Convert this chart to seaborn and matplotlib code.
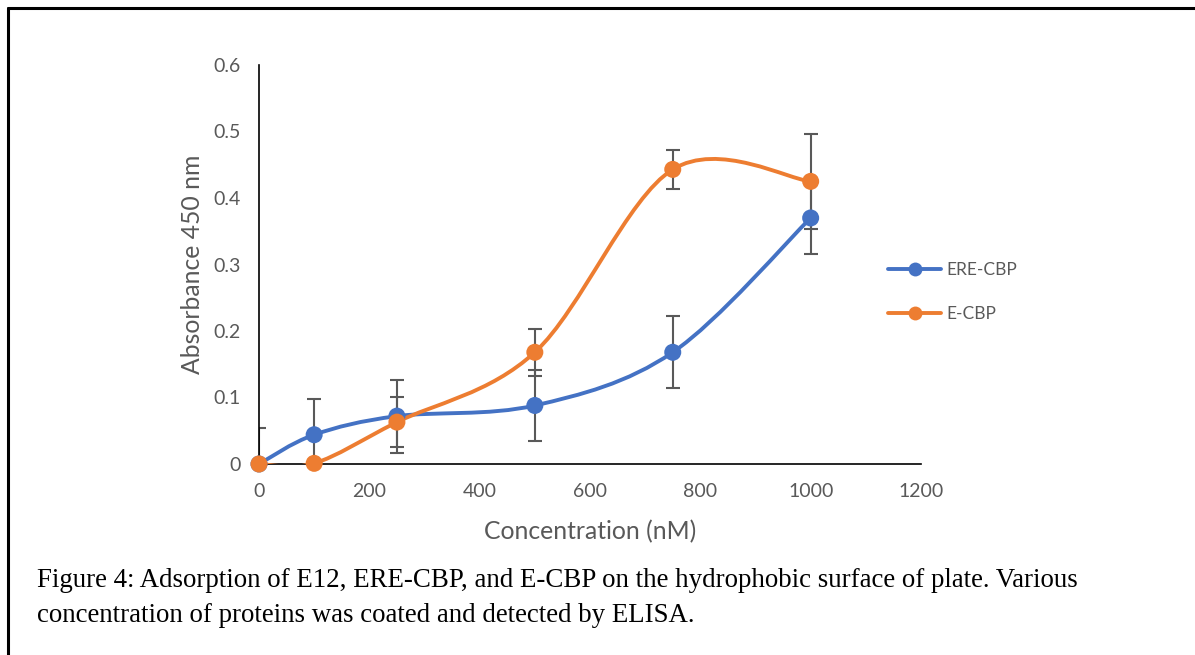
import numpy as np
import pandas as pd
import matplotlib
matplotlib.use("Agg")
import matplotlib.pyplot as plt
import seaborn as sns
from matplotlib.lines import Line2D
from matplotlib.path import Path
from matplotlib.patches import PathPatch

# ── Data ──────────────────────────────────────────────────────────────────────
concentration = [0, 100, 250, 500, 750, 1000]
ere_cbp = [0.0, 0.044, 0.072, 0.088, 0.168, 0.370]
ere_cbp_err = [0.054, 0.053, 0.055, 0.054, 0.054, 0.054]
e_cbp = [0.0, 0.001, 0.063, 0.168, 0.443, 0.425]
e_cbp_err = [0.0, 0.0, 0.038, 0.035, 0.029, 0.071]

series_names = ["ERE-CBP", "E-CBP"]
x_ticks = [0, 200, 400, 600, 800, 1000, 1200]
y_ticks = [0, 0.1, 0.2, 0.3, 0.4, 0.5, 0.6]
y_tick_labels = ["0", "0.1", "0.2", "0.3", "0.4", "0.5", "0.6"]

COLORS = {"ERE-CBP": "#4472C4", "E-CBP": "#ED7D31"}
GREY = "#595959"
SANS = ["Lato", "DejaVu Sans"]
SERIF = ["Liberation Serif", "DejaVu Serif"]

caption_lines = [
    "Figure 4: Adsorption of E12, ERE-CBP, and E-CBP on the hydrophobic surface of plate. Various",
    "concentration of proteins was coated and detected by ELISA.",
]


def smooth_path(xs, ys):
    """Excel-style smoothed line as cubic Bezier segments (Catmull-Rom)."""
    pts = np.column_stack([xs, ys]).astype(float)
    verts = [pts[0]]
    codes = [Path.MOVETO]
    n = len(pts)
    for i in range(n - 1):
        p0 = pts[max(i - 1, 0)]
        p1 = pts[i]
        p2 = pts[i + 1]
        p3 = pts[min(i + 2, n - 1)]
        c1 = p1 + (p2 - p0) / 6.0
        c2 = p2 - (p3 - p1) / 6.0
        verts += [c1, c2, p2]
        codes += [Path.CURVE4] * 3
    return Path(verts, codes)


df = pd.DataFrame({
    "Concentration": concentration * 2,
    "Absorbance": ere_cbp + e_cbp,
    "err": ere_cbp_err + e_cbp_err,
    "Series": ["ERE-CBP"] * len(concentration) + ["E-CBP"] * len(concentration),
})

sns.set_style("white")
plt.rcParams["font.family"] = SANS

fig = plt.figure(figsize=(11.95, 6.55), dpi=100)
ax = fig.add_axes([259 / 1195, 1 - 464 / 655, 662 / 1195, 399 / 655])

# error bars first, under the lines
for name in series_names:
    sub = df[df["Series"] == name]
    ax.errorbar(sub["Concentration"], sub["Absorbance"], yerr=sub["err"],
                fmt="none", ecolor=GREY, elinewidth=1.5, capsize=5,
                capthick=1.5, zorder=2)

# smoothed connecting lines
for name in series_names:
    sub = df[df["Series"] == name]
    patch = PathPatch(smooth_path(sub["Concentration"], sub["Absorbance"]),
                      fill=False, edgecolor=COLORS[name], linewidth=2.8,
                      capstyle="round", zorder=3)
    ax.add_patch(patch)

sns.scatterplot(data=df, x="Concentration", y="Absorbance", hue="Series",
                palette=COLORS, s=150, edgecolor="none", legend=False,
                ax=ax, zorder=4, clip_on=False)

ax.set_xlim(0, 1200)
ax.set_ylim(0, 0.6)
ax.set_xticks(x_ticks)
ax.set_yticks(y_ticks)
ax.set_yticklabels(y_tick_labels)
ax.tick_params(axis="both", direction="out", length=5, width=1.2,
               colors="black", labelcolor=GREY, labelsize=14)
ax.tick_params(axis="y", pad=8)
ax.tick_params(axis="x", pad=9)
for side in ["top", "right"]:
    ax.spines[side].set_visible(False)
for side in ["left", "bottom"]:
    ax.spines[side].set_color("black")
    ax.spines[side].set_linewidth(1.2)

ax.set_xlabel("Concentration (nM)", fontsize=17.8, color=GREY, labelpad=14)
ax.set_ylabel("Absorbance 450 nm", fontsize=17.8, color=GREY, labelpad=7)

handles = [
    Line2D([0], [0], color=COLORS[n], linewidth=2.8, marker="o",
           markersize=10, markeredgewidth=0)
    for n in series_names
]
leg = fig.legend(handles, series_names, loc="center left",
                 bbox_to_anchor=(872 / 1195, 1 - 292 / 655), frameon=False,
                 fontsize=12.5, handlelength=3.1, labelspacing=1.6,
                 handletextpad=0.3)
for t in leg.get_texts():
    t.set_color(GREY)

for i, line in enumerate(caption_lines):
    fig.text(37 / 1195, 1 - (587 + 35 * i) / 655, line, fontsize=19.4,
             family=SERIF, color="black", va="baseline", ha="left")

# frame lines (top and left) of the figure box
fig.add_artist(Line2D([8 / 1195, 1], [1 - 8 / 655, 1 - 8 / 655],
                      color="black", linewidth=2.2, transform=fig.transFigure))
fig.add_artist(Line2D([8 / 1195, 8 / 1195], [0, 1 - 8 / 655],
                      color="black", linewidth=2.2, transform=fig.transFigure))

fig.savefig("out.png", dpi=100)
